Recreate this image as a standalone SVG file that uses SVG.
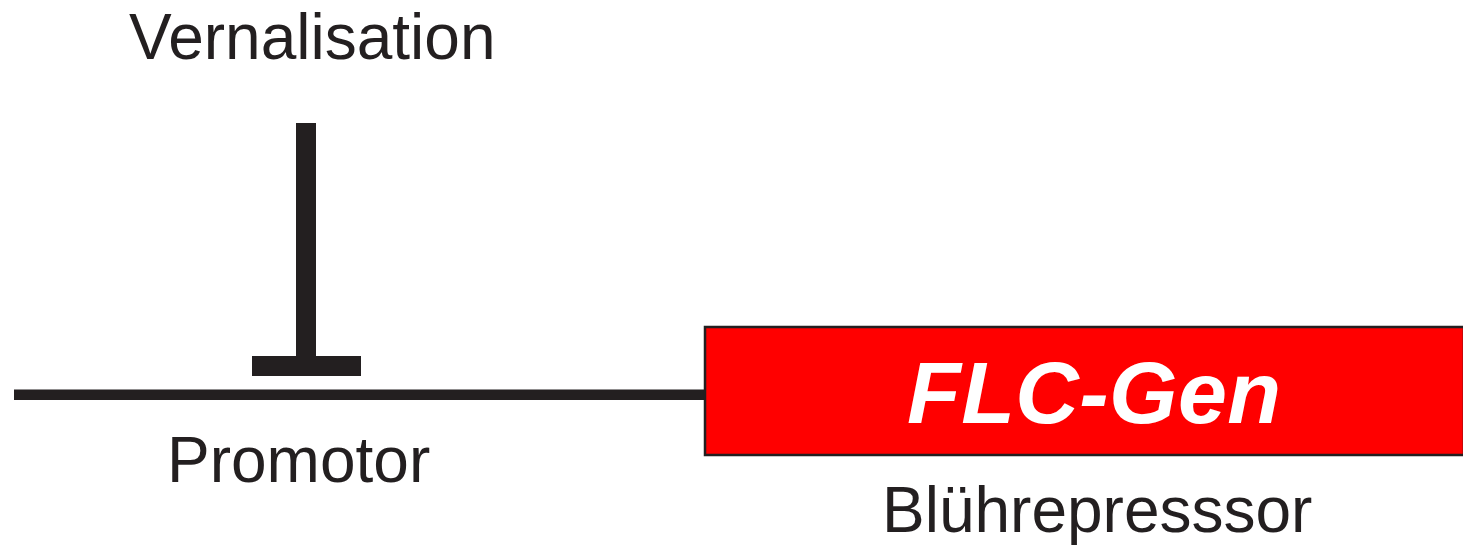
<svg xmlns="http://www.w3.org/2000/svg" width="1463" height="546" viewBox="0 0 1463 546">
<style>
.lbl{font-family:"Liberation Sans",Arial,sans-serif;font-size:64px;fill:#231f20}
.gene{font-family:"Liberation Sans",Arial,sans-serif;font-size:88px;font-weight:bold;font-style:italic;fill:#ffffff}
.ink{fill:#231f20}
</style>
<rect width="1463" height="546" fill="#ffffff"/>
<g id="connectors">
<rect class="ink" x="14" y="389.5" width="692" height="10.5"/>
<rect class="ink" x="296" y="123" width="20" height="235"/>
<rect class="ink" x="252" y="356" width="109" height="20"/>
</g>
<g id="vernalisation">
<text class="lbl" x="129" y="59">Vernalisation</text>
</g>
<g id="promotor">
<text class="lbl" x="167" y="482">Promotor</text>
</g>
<g id="flc-gen">
<rect x="705" y="327" width="759" height="128" fill="#ff0000" stroke="#231f20" stroke-width="2.5"/>
<text class="gene" x="907" y="423" textLength="374">FLC-Gen</text>
</g>
<g id="bluehrepressor">
<text class="lbl" x="882" y="532">Blührepresssor</text>
</g>
</svg>
